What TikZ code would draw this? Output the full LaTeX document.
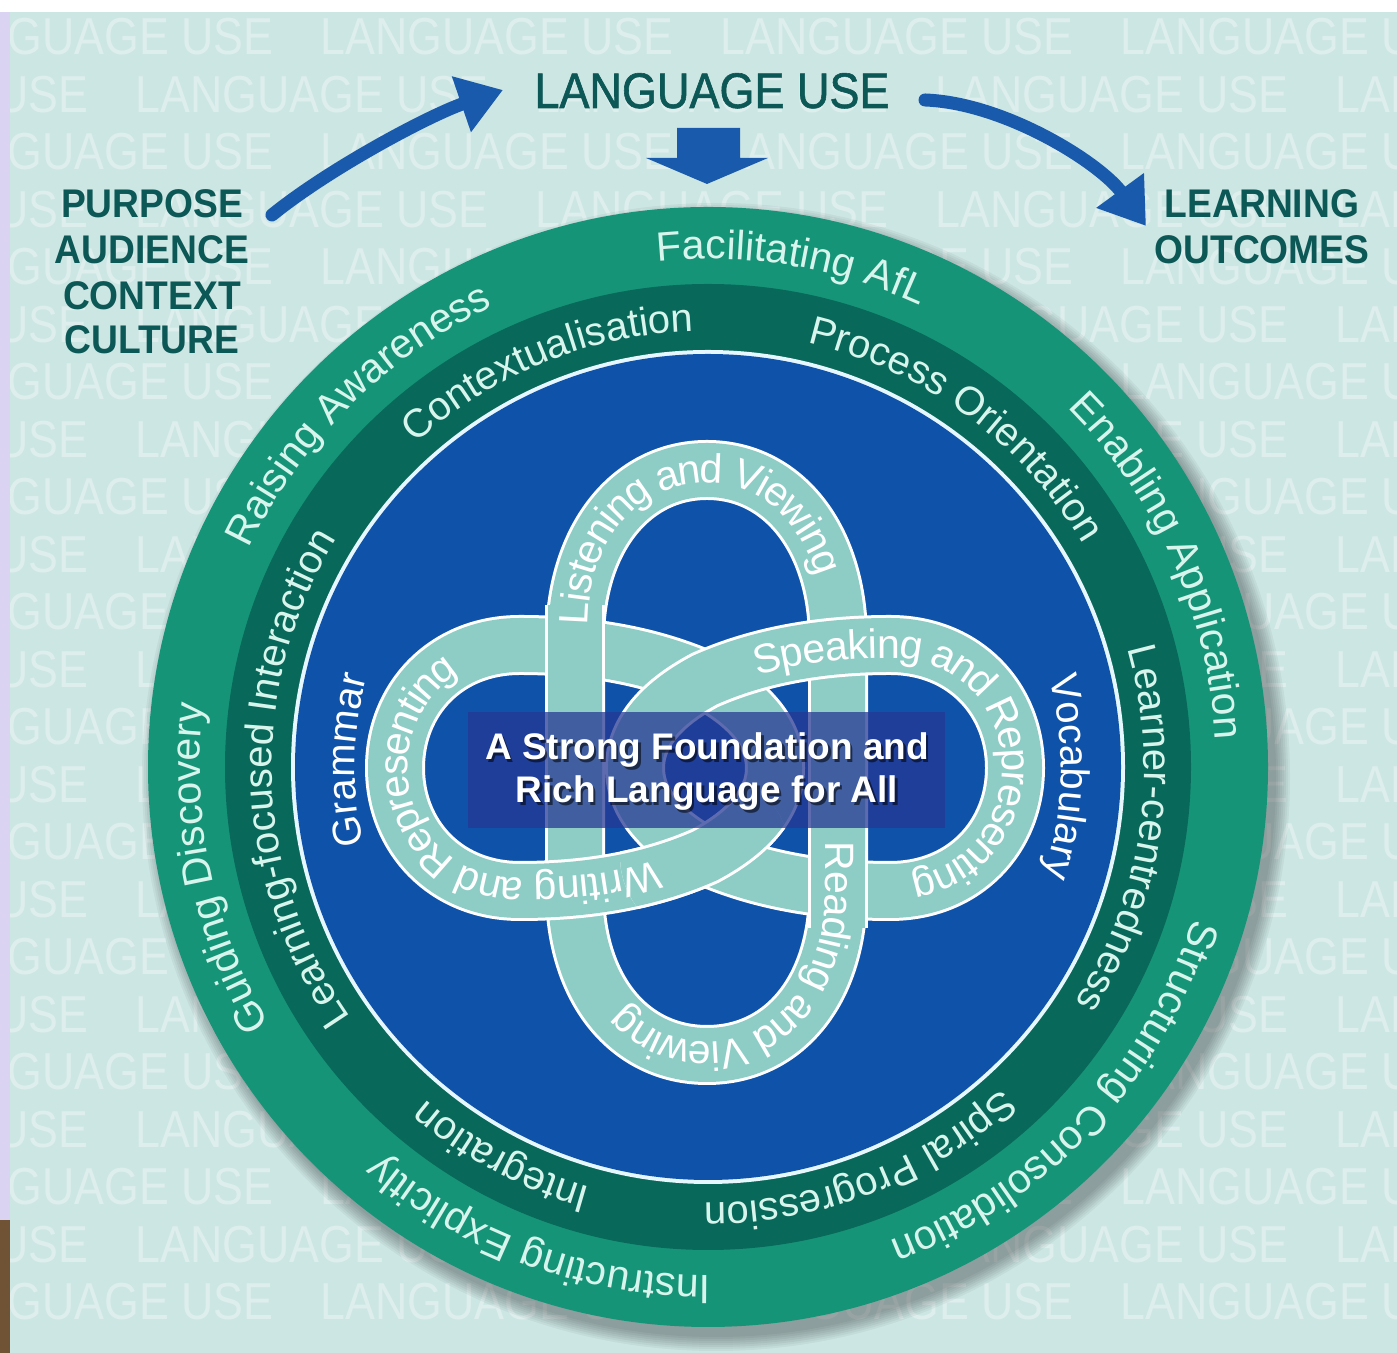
\documentclass[tikz,border=0pt]{standalone}
\usepackage{fontspec}
\setmainfont{Liberation Sans}
\newfontfamily\condf[FakeStretch=0.86]{Liberation Sans}
\newfontfamily\titlef[FakeStretch=0.9,FakeBold=1.2]{Liberation Sans}
\newfontfamily\capf[FakeStretch=0.93]{Liberation Sans}
\usetikzlibrary{arrows.meta,decorations.text}
\definecolor{bgteal}{RGB}{204,230,228}
\definecolor{lav}{RGB}{218,212,242}
\definecolor{brownc}{RGB}{112,82,52}
\definecolor{titlecol}{RGB}{12,88,86}
\definecolor{arrowblue}{RGB}{26,90,172}
\definecolor{outergreen}{RGB}{22,148,120}
\definecolor{darkgreen}{RGB}{8,104,90}
\definecolor{innerblue}{RGB}{14,82,170}
\definecolor{bandcol}{RGB}{142,205,198}
\definecolor{boxcol}{RGB}{38,56,148}
\definecolor{ringtxt}{RGB}{215,245,236}
\newcommand\outerf{\fontsize{20.5}{24}\selectfont}
\newcommand\darkf{\fontsize{20}{24}\selectfont}
\newcommand\knotf{\fontsize{20.5}{24}\selectfont}
\newcommand\gramf{\fontsize{20}{24}\selectfont}
% #1 radius, #2 centre angle, #3 font, #4 colour, #5 text
\newcommand\RingTxt[5]{\path[decorate,decoration={text along path,text={|#3|#5},text align=center,text color=#4}] ([shift={({#2+70}:#1)}]C) arc[start angle={#2+70},end angle={#2-70},radius=#1];}
\def\KnotV{(575,463) -- (575,713) .. controls (575,813) and (630,883) .. (707,883) .. controls (784,883) and (838,813) .. (838,713) -- (838,463) .. controls (838,363) and (784,298) .. (707,298) .. controls (630,298) and (575,363) .. (575,463) -- cycle}
\def\KnotL{(395,585) .. controls (395,653) and (445,708) .. (520,708) .. controls (600,708) and (660,693) .. (705,673) .. controls (752,648) and (775,618) .. (775,585) .. controls (775,552) and (752,522) .. (705,497) .. controls (660,477) and (600,462) .. (520,462) .. controls (445,462) and (395,517) .. (395,585) -- cycle}
\def\KnotR{(635,585) .. controls (635,618) and (658,648) .. (705,673) .. controls (750,693) and (810,708) .. (890,708) .. controls (965,708) and (1015,653) .. (1015,585) .. controls (1015,517) and (965,462) .. (890,462) .. controls (810,462) and (750,477) .. (705,497) .. controls (658,522) and (635,552) .. (635,585) -- cycle}
\begin{document}
\begin{tikzpicture}[x=0.5pt,y=0.5pt,
  bandW/.style={draw=white,line width=30pt,line join=round},
  bandT/.style={draw=bandcol,line width=27pt,line join=round},
  bgtxt/.style={text=white,text opacity=0.34,font=\condf\fontsize{26}{26}\selectfont,inner sep=0pt,anchor=base west},
  capnode/.style={text=titlecol,font=\capf\bfseries\fontsize{20}{20}\selectfont,inner sep=0pt,anchor=base},
  arr/.style={draw=arrowblue,line width=6.5pt,line cap=round,-{Triangle[length=22pt,width=28pt]}},
  knottxt/.style={decorate,decoration={text along path,text align=left,raise=-6.5pt,text color=white}},
  boxtext/.style={font=\bfseries\fontsize{18.5}{20}\selectfont,inner sep=0pt,anchor=base}
]
\useasboundingbox (0,0) rectangle (1397,1353);
\fill[white] (0,0) rectangle (1397,1353);
\fill[bgteal] (10,0) rectangle (1397,1341);
\fill[lav] (0,133) rectangle (10,1341);
\fill[brownc] (0,0) rectangle (10,133);
% background words
\begin{scope}
\clip (10,0) rectangle (1397,1341);
\foreach \k in {0,...,22}{
  \pgfmathsetmacro\yy{1298-57.5*\k}
  \pgfmathsetmacro\off{ifthenelse(mod(\k,2)==0,-80,-265)}
  \foreach \j in {0,...,4}{
    \node[bgtxt] (bg-\k-\j) at ({\off+400*\j},\yy) {LANGUAGE USE};
  }
}
\end{scope}
% title and side labels
\node[text=titlecol,font=\titlef\fontsize{25}{25}\selectfont,inner sep=0pt,anchor=base] (title) at (712,1245) {LANGUAGE USE};
\node[capnode] (p1) at (152,1135) {PURPOSE};
\node[capnode] (p2) at (152,1089) {AUDIENCE};
\node[capnode] (p3) at (152,1043) {CONTEXT};
\node[capnode] (p4) at (152,999) {CULTURE};
\node[capnode] (o1) at (1262,1135) {LEARNING};
\node[capnode] (o2) at (1262,1089) {OUTCOMES};
% arrows
\coordinate (a1s) at (272,1138);
\coordinate (a1e) at (503,1263);
\coordinate (a2s) at (925,1253);
\coordinate (a2e) at (1146,1127);
\draw[arr] (a1s) .. controls (330,1185) and (430,1238) .. (a1e);
\draw[arr] (a2s) .. controls (1005,1250) and (1100,1190) .. (a2e);
\fill[arrowblue] (677,1225) -- (740,1225) -- (740,1195) -- (768,1195) -- (707,1169) -- (646,1195) -- (677,1195) -- cycle;
% circle with shadow
\coordinate (C) at (708,586);
\foreach \s in {0,...,7} \fill[black,opacity=0.045] (716,576) circle[radius={560+2*\s}];
\fill[outergreen] (C) circle[radius=560];
\fill[darkgreen] (C) circle[radius=483];
\fill[white!90!cyan] (C) circle[radius=417];
\fill[innerblue] (C) circle[radius=413];
% knot
\draw[bandW] \KnotV; \draw[bandT] \KnotV;
\draw[bandW] \KnotL; \draw[bandT] \KnotL;
\draw[bandW] \KnotR; \draw[bandT] \KnotR;
\draw[bandW] (575,668) -- (575,748); \draw[bandT] (575,668) -- (575,748);
\draw[bandW] (838,425) -- (838,502); \draw[bandT] (838,425) -- (838,502);
\begin{scope}
\clip (705,497) circle[radius=85];
\draw[bandW] \KnotL; \draw[bandT] \KnotL;
\end{scope}
% knot texts
\path[knottxt,decoration={text={|\knotf|Listening and Viewing}}] (575,728) .. controls (575,818) and (630,883) .. (707,883) .. controls (784,883) and (838,813) .. (838,713) -- (838,620);
\path[knottxt,decoration={text={|\knotf|Speaking and Representing}}] (754,690) .. controls (785,700) and (830,708) .. (890,708) .. controls (965,708) and (1015,653) .. (1015,585) .. controls (1015,517) and (965,462) .. (890,462) .. controls (840,462) and (800,466) .. (760,475);
\path[knottxt,decoration={text={|\knotf|Reading and Viewing}}] (838,511) -- (838,463) .. controls (838,363) and (784,298) .. (707,298) .. controls (630,298) and (575,363) .. (575,463) -- (575,560);
\path[knottxt,decoration={text={|\knotf|Writing and Representing}}] (660,481) .. controls (620,467) and (580,462) .. (520,462) .. controls (445,462) and (395,517) .. (395,585) .. controls (395,653) and (445,708) .. (520,708) .. controls (580,708) and (620,704) .. (660,694);
% ring texts
\RingTxt{508}{80.5}{\outerf}{ringtxt}{Facilitating AfL}
\RingTxt{508}{24}{\outerf}{ringtxt}{Enabling Application}
\RingTxt{508}{-43.2}{\outerf}{ringtxt}{Structuring Consolidation}
\RingTxt{508}{-110}{\outerf}{ringtxt}{Instructing Explicitly}
\RingTxt{508}{191.7}{\outerf}{ringtxt}{Guiding Discovery}
\RingTxt{508}{134.8}{\outerf}{ringtxt}{Raising Awareness}
\RingTxt{436}{112}{\darkf}{ringtxt}{Contextualisation}
\RingTxt{436}{53.8}{\darkf}{ringtxt}{Process Orientation}
\RingTxt{436}{-8.5}{\darkf}{ringtxt}{Learner-centredness}
\RingTxt{436}{-69}{\darkf}{ringtxt}{Spiral Progression}
\RingTxt{436}{-118}{\darkf}{ringtxt}{Integration}
\RingTxt{436}{181.7}{\darkf}{ringtxt}{Learning-focused Interaction}
\RingTxt{353}{178.9}{\gramf}{white}{Grammar}
\RingTxt{353}{-1.6}{\gramf}{white}{Vocabulary}
% centre box
\node[fill=boxcol,fill opacity=0.74,minimum width=238.5pt,minimum height=58pt,inner sep=0pt] (box) at (706.5,583) {};
\node[boxtext,text=black,text opacity=0.55] (s1) at (709.5,590.5) {A Strong Foundation and};
\node[boxtext,text=black,text opacity=0.55] (s2) at (709.5,547.5) {Rich Language for All};
\node[boxtext,text=white] (t1) at (707,593) {A Strong Foundation and};
\node[boxtext,text=white] (t2) at (707,550) {Rich Language for All};
\end{tikzpicture}
\end{document}
